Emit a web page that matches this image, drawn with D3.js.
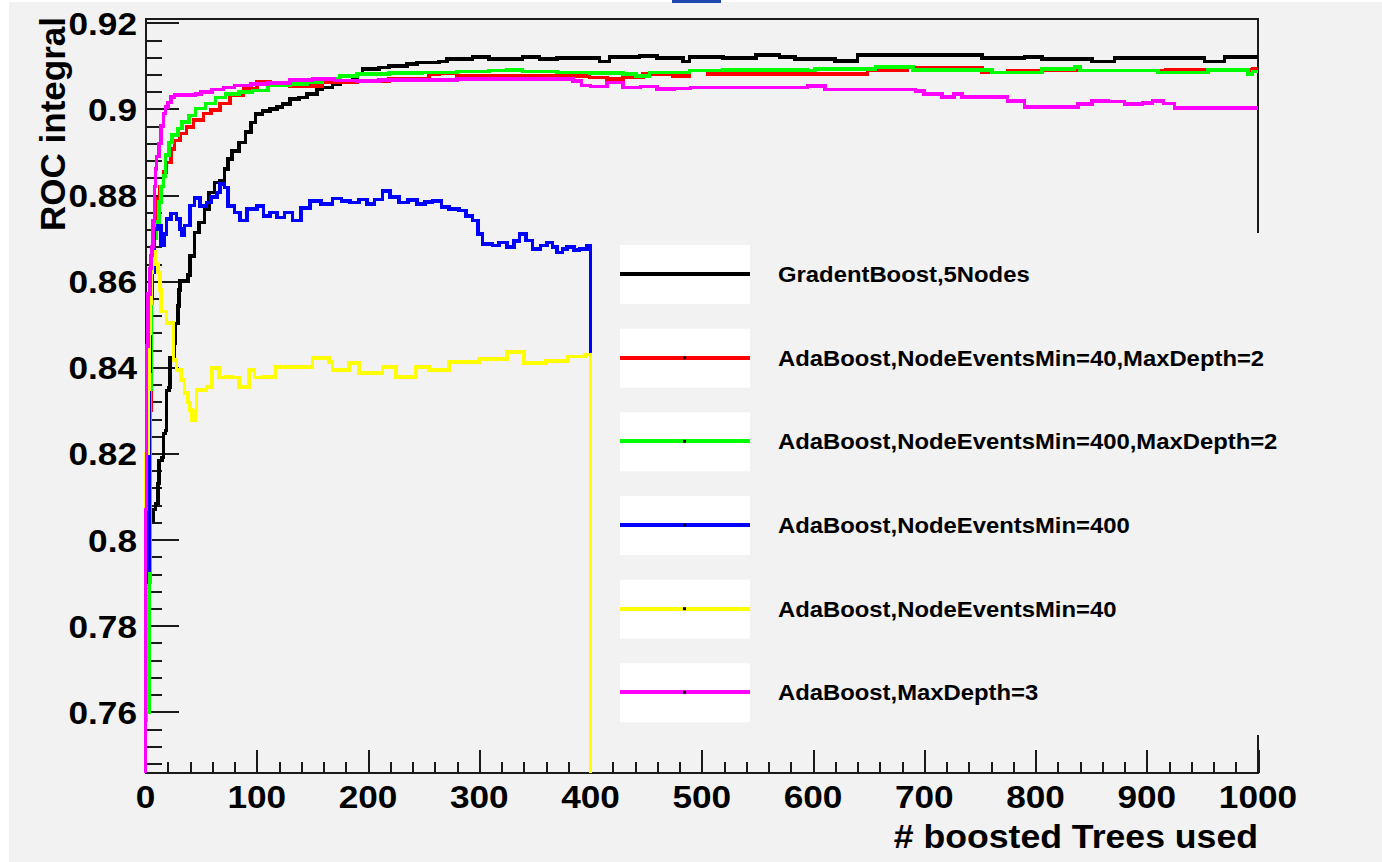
<!DOCTYPE html>
<html>
<head>
<meta charset="utf-8">
<script src="https://cdn.jsdelivr.net/npm/d3@7"></script>
<style>
  body { margin: 0; background: #fff; }
  text { font-family: "Liberation Sans", Arial, Helvetica, sans-serif; font-weight: bold; fill: #000; }
</style>
</head>
<body>
<div id="chart"></div>
<script>
// ---- data: [boosted trees, ROC integral] ----
var seriesNames = [
    'GradentBoost,5Nodes',
    'AdaBoost,NodeEventsMin=40,MaxDepth=2',
    'AdaBoost,NodeEventsMin=400,MaxDepth=2',
    'AdaBoost,NodeEventsMin=400',
    'AdaBoost,NodeEventsMin=40',
    'AdaBoost,MaxDepth=3'
];
var seriesColors = ['#000000', '#ff0000', '#00ff00', '#0000ff', '#ffff00', '#ff00ff'];

var gradBoost5Nodes = [[0,0.7912],[4,0.8045],[7,0.8070],[9,0.8084],[11,0.8130],[12,0.8184],[15,0.8191],[16,0.8246],[18,0.8253],[19,0.8346],[21,0.8353],[22,0.8423],[26,0.8455],[27,0.8502],[29,0.8543],[30,0.8579],[31,0.8601],[38,0.8615],[40,0.8659],[44,0.8713],[48,0.8736],[53,0.8768],[57,0.8806],[62,0.8829],[67,0.8833],[71,0.8861],[74,0.8884],[78,0.8903],[84,0.8922],[90,0.8946],[95,0.8969],[99,0.8988],[105,0.8996],[112,0.9000],[118,0.9005],[123,0.9011],[130,0.9023],[138,0.9027],[145,0.9035],[154,0.9046],[159,0.9050],[168,0.9058],[175,0.9062],[186,0.9075],[190,0.9081],[195,0.9093],[210,0.9096],[219,0.9100],[235,0.9104],[244,0.9108],[264,0.9110],[271,0.9116],[294,0.9121],[309,0.9116],[339,0.9121],[354,0.9116],[370,0.9118],[408,0.9110],[417,0.9121],[444,0.9123],[460,0.9119],[483,0.9110],[489,0.9121],[519,0.9118],[549,0.9126],[570,0.9121],[584,0.9116],[620,0.9112],[640,0.9126],[752,0.9118],[790,0.9121],[806,0.9116],[851,0.9110],[871,0.9118],[952,0.9110],[970,0.9121],[1000,0.9121]];

var ada40Depth2 = [[0,0.758],[1,0.760],[3,0.790],[4,0.830],[5,0.855],[6,0.866],[8,0.871],[10,0.876],[11,0.8791],[13,0.8820],[16,0.8853],[19,0.8876],[23,0.8907],[26,0.8927],[31,0.8943],[37,0.8958],[43,0.8974],[52,0.8990],[59,0.8997],[67,0.9013],[76,0.9032],[88,0.9048],[100,0.9063],[112,0.9058],[130,0.9054],[159,0.9062],[190,0.9065],[219,0.9069],[255,0.9081],[264,0.9083],[280,0.9077],[384,0.9077],[399,0.9073],[415,0.9069],[429,0.9073],[447,0.9081],[474,0.9077],[489,0.9089],[505,0.9081],[649,0.9089],[685,0.9096],[740,0.9096],[752,0.9085],[775,0.9089],[917,0.9090],[995,0.9093],[1000,0.9093]];

var ada400Depth2 = [[0,0.758],[1,0.760],[3,0.790],[4,0.835],[5,0.855],[6,0.8676],[8,0.8700],[10,0.8737],[12,0.8784],[14,0.8820],[16,0.8845],[18,0.8893],[21,0.8922],[24,0.8939],[29,0.8955],[33,0.8970],[39,0.8985],[45,0.9001],[54,0.9013],[63,0.9027],[72,0.9035],[84,0.9040],[96,0.9043],[110,0.9055],[130,0.9058],[145,0.9062],[159,0.9069],[175,0.9077],[190,0.9081],[219,0.9083],[249,0.9085],[280,0.9087],[309,0.9089],[325,0.9090],[339,0.9087],[370,0.9085],[399,0.9083],[429,0.9081],[441,0.9077],[453,0.9085],[489,0.9089],[519,0.9090],[595,0.9089],[602,0.9093],[656,0.9098],[690,0.9090],[761,0.9085],[806,0.9093],[835,0.9098],[840,0.9089],[910,0.9085],[955,0.9090],[991,0.9081],[995,0.9087],[1000,0.9087]];

var ada400 = [[0,0.790],[1,0.793],[3,0.839],[4,0.856],[6,0.862],[8,0.8722],[11,0.8729],[14,0.8683],[17,0.8710],[19,0.8745],[23,0.8757],[28,0.8745],[31,0.8722],[33,0.8706],[35,0.8729],[40,0.8776],[44,0.8794],[49,0.8775],[55,0.8783],[59,0.8795],[64,0.8806],[67,0.8826],[71,0.8818],[74,0.8775],[80,0.8760],[85,0.8741],[91,0.8768],[100,0.8775],[106,0.8752],[112,0.8760],[118,0.8748],[125,0.8760],[132,0.8741],[140,0.8770],[148,0.8787],[158,0.8780],[168,0.8792],[176,0.8786],[184,0.8783],[192,0.8790],[199,0.8779],[206,0.8790],[213,0.8810],[220,0.8795],[228,0.8783],[236,0.8788],[244,0.8779],[251,0.8784],[258,0.8787],[266,0.8772],[273,0.8768],[282,0.8764],[288,0.8752],[294,0.8741],[299,0.8710],[303,0.8687],[312,0.8683],[318,0.8690],[325,0.8679],[331,0.8693],[336,0.8710],[342,0.8695],[348,0.8675],[355,0.8683],[361,0.8690],[366,0.8680],[370,0.8667],[375,0.8675],[379,0.8679],[385,0.8672],[390,0.8675],[397,0.8682],[400,0],[1000,0]];

var ada40 = [[0,0.820],[2,0.835],[3,0.848],[4,0.855],[5,0.862],[6,0.8669],[9,0.8640],[11,0.8620],[13,0.8580],[14,0.8530],[19,0.8503],[25,0.8417],[28,0.8394],[32,0.8371],[35,0.8341],[38,0.8318],[40,0.8301],[42,0.8278],[45,0.8300],[46,0.8348],[50,0.8348],[55,0.8355],[60,0.8399],[66,0.8376],[72,0.8378],[78,0.8376],[84,0.8355],[93,0.8394],[98,0.8376],[105,0.8378],[117,0.8401],[138,0.8401],[150,0.8422],[165,0.8413],[168,0.8394],[183,0.8410],[192,0.8387],[213,0.8401],[225,0.8378],[243,0.8401],[255,0.8394],[273,0.8413],[300,0.8420],[325,0.8435],[340,0.8410],[360,0.8415],[380,0.8425],[395,0.8430],[400,0],[1000,0]];

var adaDepth3 = [[0,0.807],[1,0.845],[2,0.857],[4,0.863],[5,0.866],[6,0.868],[7,0.874],[8,0.882],[9,0.886],[10,0.889],[12,0.892],[14,0.896],[16,0.899],[18,0.9005],[20,0.9015],[23,0.9028],[26,0.9033],[45,0.9035],[50,0.9040],[60,0.9045],[70,0.9050],[80,0.9055],[95,0.9058],[110,0.9060],[130,0.9067],[150,0.9069],[170,0.9066],[190,0.9065],[210,0.9067],[250,0.9067],[280,0.9069],[384,0.9065],[392,0.9055],[400,0.9052],[415,0.9062],[429,0.9050],[445,0.9052],[460,0.9046],[475,0.9048],[490,0.9050],[595,0.9054],[611,0.9045],[692,0.9042],[700,0.9035],[716,0.9028],[727,0.9035],[734,0.9028],[775,0.9019],[790,0.9005],[838,0.9012],[851,0.9019],[865,0.9017],[880,0.9012],[896,0.9014],[905,0.9019],[915,0.9013],[925,0.9003],[1000,0.9004]];

var allSeries = [gradBoost5Nodes, ada40Depth2, ada400Depth2, ada400, ada40, adaDepth3];

var xMajorTicks = [0, 100, 200, 300, 400, 500, 600, 700, 800, 900, 1000];
var xTickLabels = ['0', '100', '200', '300', '400', '500', '600', '700', '800', '900', '1000'];
var yMajorTicks = [0.76, 0.78, 0.80, 0.82, 0.84, 0.86, 0.88, 0.90, 0.92];
var yTickLabels = ['0.76', '0.78', '0.8', '0.82', '0.84', '0.86', '0.88', '0.9', '0.92'];

// ---- layout ----
var width = 1382, height = 862;
var frame = {left: 145.5, right: 1258, top: 19, bottom: 773};
var axisColor = '#1a1a1a';

var svg = d3.select('#chart').append('svg')
    .attr('width', width)
    .attr('height', height);

svg.append('rect').attr('x', 0).attr('y', 0).attr('width', width).attr('height', height).attr('fill', '#ffffff');
svg.append('rect').attr('x', 9).attr('y', 2).attr('width', width - 9).attr('height', height - 2).attr('fill', '#f2f2f2');
svg.append('rect').attr('x', 672).attr('y', 0).attr('width', 49).attr('height', 3).attr('fill', '#1f45b0');

var x = d3.scaleLinear().domain([0, 1000]).range([frame.left, frame.right]);
var y = d3.scaleLinear().domain([0.7458, 0.9209]).range([frame.bottom, frame.top]);

// minor ticks every 20 trees / 0.004
var xMinorTicks = d3.range(0, 1001, 20).filter(function(d) { return d % 100 !== 0; });
var yMinorTicks = d3.range(0, 45).map(function(i) { return +(0.748 + i * 0.004).toFixed(3); })
    .filter(function(d) { return d <= 0.9209 && Math.round(d * 1000) % 20 !== 0; });

function tickStyle(g) {
    g.select('.domain').remove();
    g.selectAll('.tick line').attr('stroke', axisColor).attr('stroke-width', 2).attr('shape-rendering', 'crispEdges');
    g.selectAll('.tick text').remove();
}

var axes = svg.append('g');
axes.append('g').attr('transform', 'translate(' + frame.left + ',0)')
    .call(d3.axisRight(y).tickValues(yMajorTicks).tickSize(33).tickFormat(''))
    .call(tickStyle);
axes.append('g').attr('transform', 'translate(' + frame.left + ',0)')
    .call(d3.axisRight(y).tickValues(yMinorTicks).tickSize(16.5).tickFormat(''))
    .call(tickStyle);
axes.append('g').attr('transform', 'translate(0,' + frame.bottom + ')')
    .call(d3.axisTop(x).tickValues(xMajorTicks).tickSize(22.6).tickFormat(''))
    .call(tickStyle);
axes.append('g').attr('transform', 'translate(0,' + frame.bottom + ')')
    .call(d3.axisTop(x).tickValues(xMinorTicks).tickSize(11.3).tickFormat(''))
    .call(tickStyle);

// frame
axes.append('rect')
    .attr('x', frame.left).attr('y', frame.top)
    .attr('width', frame.right - frame.left).attr('height', frame.bottom - frame.top)
    .attr('fill', 'none').attr('stroke', axisColor).attr('stroke-width', 2)
    .attr('shape-rendering', 'crispEdges');

// curves
svg.append('clipPath').attr('id', 'plotclip')
    .append('rect')
    .attr('x', frame.left - 3).attr('y', frame.top)
    .attr('width', frame.right - frame.left + 3).attr('height', frame.bottom - frame.top);

var line = d3.line()
    .x(function(d) { return x(d[0]); })
    .y(function(d) { return y(d[1]); })
    .curve(d3.curveStepAfter);

var curves = svg.append('g').attr('clip-path', 'url(#plotclip)');
allSeries.forEach(function(data, i) {
    // histogram outline starts from the baseline at the first bin edge
    var pts = [[data[0][0], 0]].concat(data);
    curves.append('path')
        .datum(pts)
        .attr('d', line)
        .attr('fill', 'none')
        .attr('stroke', seriesColors[i])
        .attr('stroke-width', 3.6)
        .attr('stroke-linejoin', 'miter')
        .attr('shape-rendering', 'crispEdges');
});

// legend
var legend = svg.append('g');
legend.append('rect')
    .attr('x', 606).attr('y', 233).attr('width', 700).attr('height', 502)
    .attr('fill', '#f2f2f2');

var legendTop = 274, legendStep = 83.67;
seriesNames.forEach(function(name, i) {
    var ly = legendTop + i * legendStep;
    legend.append('rect').attr('x', 620).attr('y', ly - 29).attr('width', 130).attr('height', 59).attr('fill', '#ffffff');
    legend.append('line').attr('x1', 620).attr('x2', 750).attr('y1', ly).attr('y2', ly)
        .attr('stroke', seriesColors[i]).attr('stroke-width', 4)
        .attr('shape-rendering', 'crispEdges');
    if (i > 0) {
        legend.append('rect').attr('x', 683).attr('y', ly - 1.5).attr('width', 3).attr('height', 3).attr('fill', '#000');
    }
    label(legend, 778, ly + 8, name, 22.5, 'start', 1.06);
});

// labels
function label(g, px, py, str, size, anchor, sx) {
    return g.append('text')
        .attr('transform', 'translate(' + px + ',' + py + ') scale(' + sx + ',1)')
        .attr('text-anchor', anchor)
        .style('font-size', size + 'px')
        .text(str);
}

var labels = svg.append('g');
yMajorTicks.forEach(function(v, i) {
    label(labels, 137, y(v) + 12, yTickLabels[i], 32, 'end', 1.1);
});
xMajorTicks.forEach(function(v, i) {
    label(labels, x(v), 808, xTickLabels[i], 32, 'middle', 1.1);
});
label(labels, frame.right, 848, '# boosted Trees used', 33, 'end', 1.08);

labels.append('text')
    .attr('transform', 'translate(65,17) rotate(-90)')
    .attr('text-anchor', 'end')
    .style('font-size', '35px')
    .text('ROC integral');
</script>
</body>
</html>
